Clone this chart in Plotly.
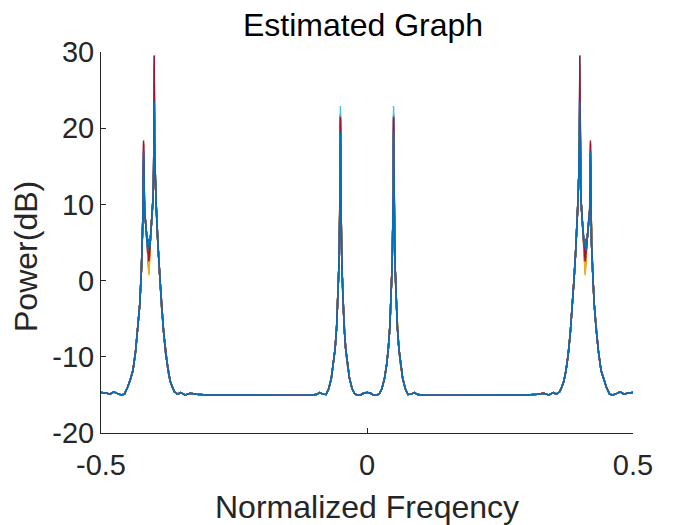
import plotly.graph_objects as go

# ---- shared spectrum shape ----
freq_neg = [-0.500, -0.491, -0.483, -0.476, -0.470, -0.462, -0.456, -0.450, -0.445, -0.440,
            -0.435, -0.431, -0.427, -0.424, -0.422, -0.421, -0.420, -0.419, -0.418, -0.416,
            -0.414, -0.412, -0.410, -0.408, -0.406, -0.404, -0.402, -0.401, -0.4005, -0.400,
            -0.3995, -0.399, -0.398, -0.396, -0.394, -0.392, -0.389, -0.386, -0.382, -0.378,
            -0.374, -0.370, -0.366, -0.362, -0.356, -0.350, -0.342, -0.332, -0.320, -0.300,
            -0.250, -0.200, -0.150, -0.105, -0.095, -0.089, -0.083, -0.077, -0.072, -0.067,
            -0.063, -0.060, -0.057, -0.055, -0.053, -0.052, -0.051, -0.0505, -0.050, -0.0495,
            -0.049, -0.048, -0.047, -0.045, -0.043, -0.040, -0.037, -0.033, -0.028, -0.023,
            -0.018, -0.012, -0.006]
db_neg = [-14.7, -14.75, -14.9, -14.6, -14.8, -15.0, -14.9, -14.0, -13.0, -11.8,
          -9.3, -6.5, -3.0, 1.5, 5.0, 9.0, 15.0, 9.5, 9.0, 7.5,
          5.5, 4.0, 3.0, 4.5, 6.5, 8.5, 11.0, 14.5, 18.0, 25.0,
          19.0, 16.5, 13.5, 9.5, 6.0, 3.5, 0.0, -3.5, -7.0, -9.8,
          -11.8, -13.2, -14.0, -14.6, -14.9, -14.7, -15.0, -14.8, -14.9, -15.0,
          -15.0, -15.05, -15.05, -15.0, -14.95, -14.7, -14.9, -14.95, -14.2, -12.8,
          -11.0, -9.0, -6.0, -3.0, 1.5, 5.0, 9.0, 12.0, 20.0, 12.0,
          9.0, 5.0, 1.5, -3.0, -6.0, -9.0, -11.0, -12.8, -14.2, -14.85,
          -15.05, -15.0, -14.75]

freq_pos = [0.000, 0.006, 0.012, 0.018, 0.023, 0.028, 0.033, 0.037, 0.040, 0.043,
            0.045, 0.047, 0.048, 0.049, 0.0495, 0.050, 0.0505, 0.051, 0.052, 0.053,
            0.055, 0.057, 0.060, 0.063, 0.067, 0.072, 0.077, 0.083, 0.089, 0.095,
            0.105, 0.150, 0.200, 0.250, 0.300, 0.320, 0.332, 0.342, 0.350, 0.356,
            0.362, 0.366, 0.370, 0.374, 0.378, 0.382, 0.386, 0.389, 0.392, 0.394,
            0.396, 0.398, 0.399, 0.3995, 0.400, 0.4005, 0.401, 0.402, 0.404, 0.406,
            0.408, 0.410, 0.412, 0.414, 0.416, 0.418, 0.419, 0.420, 0.421, 0.422,
            0.424, 0.427, 0.431, 0.435, 0.440, 0.445, 0.450, 0.456, 0.462, 0.470,
            0.476, 0.483, 0.491, 0.500]
db_pos = [-14.7, -14.75, -15.0, -15.05, -14.85, -14.2, -12.8, -11.0, -9.0, -6.0,
          -3.0, 1.5, 5.0, 9.0, 12.0, 20.0, 12.0, 9.0, 5.0, 1.5,
          -3.0, -6.0, -9.0, -11.0, -12.8, -14.2, -14.95, -14.9, -14.7, -14.95,
          -15.0, -15.05, -15.05, -15.0, -15.0, -14.9, -14.8, -15.0, -14.7, -14.9,
          -14.6, -14.0, -13.2, -11.8, -9.8, -7.0, -3.5, 0.0, 3.5, 6.0,
          9.5, 13.5, 16.5, 19.0, 25.0, 18.0, 14.5, 11.0, 8.5, 6.5,
          4.5, 3.0, 4.0, 5.5, 7.5, 9.0, 9.5, 15.0, 9.0, 5.0,
          1.5, -3.0, -6.5, -9.3, -11.8, -13.0, -14.0, -14.9, -15.0, -14.8,
          -14.6, -14.9, -14.75, -14.7]

# ---- per-realisation values at the peaks / dip (dB) ----
peak_040 = [26.0, 24.0, 22.0, 27.0, 23.0, 29.6, 28.0, 25.0, 26.5, 21.0, 24.5, 22.5, 28.5, 29.5, 23.5]
peak_042 = [14.0, 11.0, 10.0, 15.0, 13.0, 15.5, 18.4, 16.0, 12.0, 11.5, 17.0, 14.5, 16.5, 18.0, 17.0]
dip_041 = [4.0, 1.0, 0.7, 3.0, 2.5, 4.5, 2.0, 5.5, 1.5, 1.2, 3.5, 4.0, 5.0, 2.5, 5.0]
peak_005 = [19.5, 18.0, 17.0, 21.0, 18.5, 22.9, 21.7, 20.0, 20.5, 16.5, 21.2, 19.0, 22.0, 21.5, 19.5]

colors = ["#0072BD", "#D95319", "#EDB120", "#7E2F8E", "#77AC30", "#4DBEEE", "#A2142F"]

x_ticks = [-0.5, 0, 0.5]
x_labels = ["-0.5", "0", "0.5"]
y_ticks = [-20, -10, 0, 10, 20, 30]
y_labels = ["-20", "-10", "0", "10", "20", "30"]

freq = freq_neg + freq_pos
base = db_neg + db_pos

fig = go.Figure()
for i in range(len(peak_040)):
    y = list(base)
    for k, f in enumerate(freq):
        af = abs(f)
        if af == 0.400:
            y[k] = peak_040[i]
        elif af == 0.420:
            y[k] = peak_042[i]
        elif af == 0.410:
            y[k] = dip_041[i]
        elif af == 0.050:
            y[k] = peak_005[i]
    fig.add_trace(go.Scatter(x=freq, y=y, mode="lines",
                             line=dict(color=colors[i % 7], width=1.5),
                             showlegend=False, hoverinfo="skip"))

FONT = "Liberation Sans, Arial, sans-serif"
tick_font = dict(family=FONT, size=29, color="#262626")
# the page body adds an 8px offset, so the figure is 692x517 and shifted margins
fig.update_layout(
    width=692, height=517,
    margin=dict(l=93, r=67, t=44, b=92, autoexpand=False),
    paper_bgcolor="white", plot_bgcolor="white",
    showlegend=False,
)
fig.update_xaxes(range=[-0.5, 0.5], tickvals=x_ticks, ticktext=x_labels,
                 showline=True, linecolor="#262626", linewidth=1, ticks="inside", ticklen=5,
                 tickcolor="#262626", showgrid=False, zeroline=False, mirror=False,
                 automargin=False, tickfont=tick_font, ticklabelstandoff=6)
fig.update_yaxes(range=[-20, 30], tickvals=y_ticks, ticktext=y_labels,
                 showline=True, linecolor="#262626", linewidth=1, ticks="inside", ticklen=5,
                 tickcolor="#262626", showgrid=False, zeroline=False, mirror=False,
                 automargin=False, tickfont=tick_font)

fig.add_annotation(text="Estimated Graph", xref="paper", yref="paper",
                   x=0.4934, y=1.0709, xanchor="center", yanchor="middle", showarrow=False,
                   font=dict(family=FONT, size=32, color="black"))
fig.add_annotation(text="Normalized Freqency", xref="paper", yref="paper",
                   x=0.5, y=-0.194, xanchor="center", yanchor="middle", showarrow=False,
                   font=dict(family=FONT, size=32, color="#262626"))
fig.add_annotation(text="Power(dB)", xref="paper", yref="paper", textangle=-90,
                   x=-0.141, y=0.4646, xanchor="center", yanchor="middle", showarrow=False,
                   font=dict(family=FONT, size=32, color="#262626"))

fig.write_html("out.html")
